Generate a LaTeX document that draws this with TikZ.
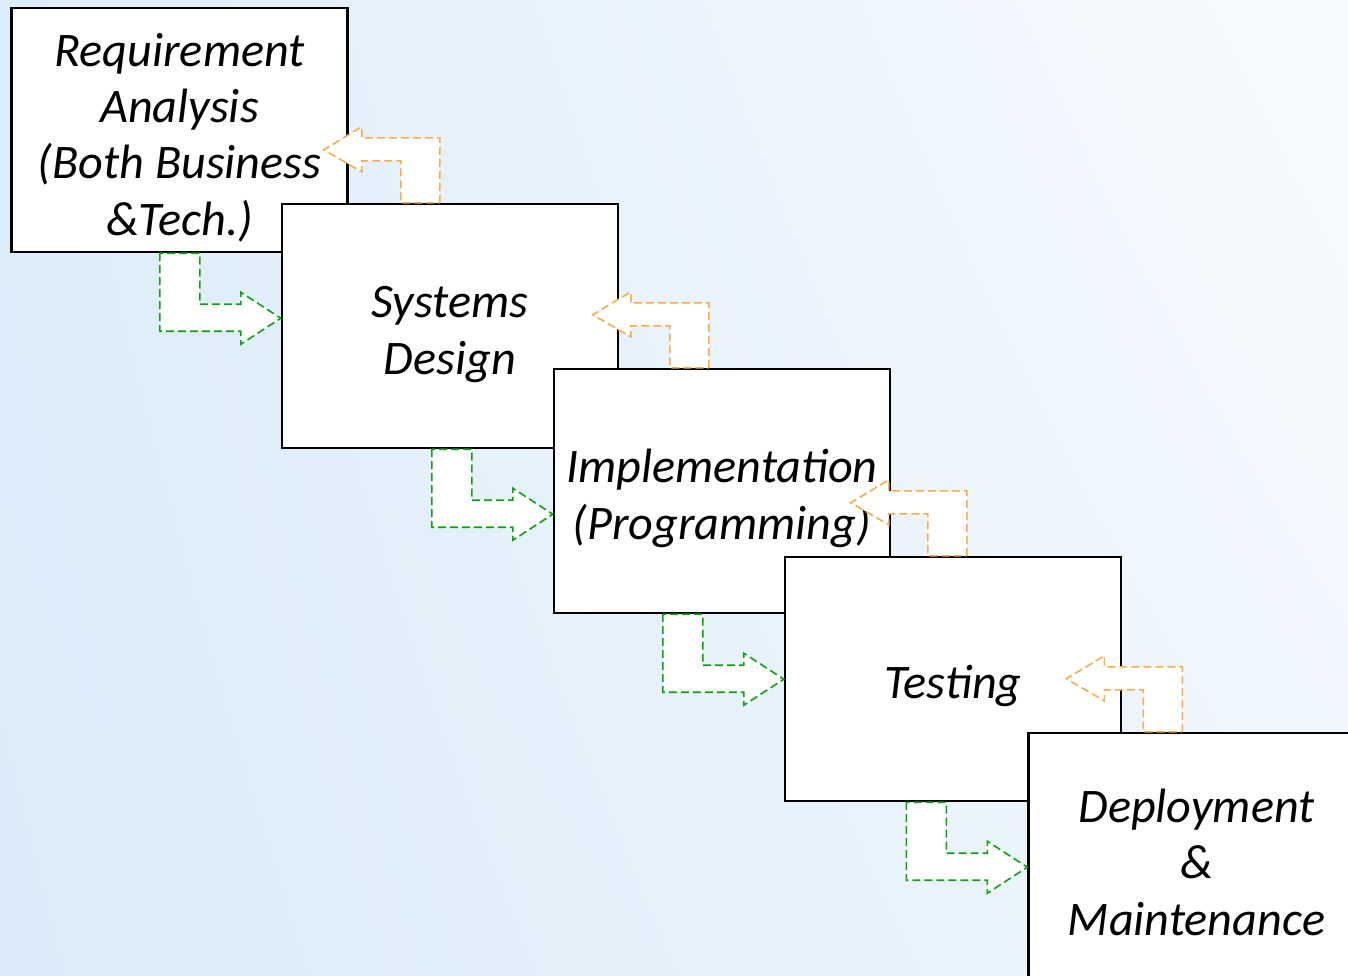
\documentclass[tikz,border=0pt]{standalone}
\usepackage{fontspec}
\setmainfont{Carlito}
\usepackage{tikz}
\usetikzlibrary{calc, shadings}

\definecolor{fwdgreen}{RGB}{10,165,10}
\definecolor{backorange}{RGB}{250,172,72}
\definecolor{bgul}{RGB}{222,237,250}
\definecolor{bgll}{RGB}{219,235,249}
\definecolor{bgur}{RGB}{248,251,254}
\definecolor{bglr}{RGB}{238,246,252}

% taller first line, so the text sits a little low in its box
\newcommand{\topstrut}{\rule{0pt}{24pt}}

\tikzset{
  % --- Phase boxes ------------------------------------------
  phase/.style={draw, fill=white, line width=1.2pt,
    minimum width=168pt, minimum height=122pt, inner sep=0pt,
    align=center, font=\fontsize{24.1}{28.2}\selectfont\itshape},
  % --- Bent arrows between phases ----------------------------
  fwdarrow/.style={draw=fwdgreen, fill=white, line width=0.8pt,
    dash pattern=on 4pt off 2pt},
  backarrow/.style={draw=backorange, fill=white, line width=0.8pt,
    dash pattern=on 4pt off 2pt}
}

\begin{document}
\begin{tikzpicture}[x=0.5pt, y=-0.5pt]

  % --- Background -----------------------------------------------
  \useasboundingbox (0,0) rectangle (1348,975);
  \clip (0,0) rectangle (1348,975);
  \shade[upper left=bgul, lower left=bgll, upper right=bgur,
    lower right=bglr] (0,0) rectangle (1348,975);

  % --- Phases (each one overlapping the previous) ---------------
  \node[phase] (RA) at (179.5,130) {\topstrut Requirement\\Analysis\\(Both Business\\\&Tech.)};
  \node[phase] (SD) at (450,326) {\topstrut Systems\\Design};
  \node[phase] (IP) at (722,491) {\topstrut Implementation\\(Programming)};
  \node[phase] (TS) at (953,679) {\topstrut Testing};
  \node[phase] (DM) at (1196.5,855) {\topstrut Deployment\\\&\\Maintenance};

  % --- Forward: green arrow from a phase into the next one ------
  \draw[fwdarrow] ($(SD.west |- RA.south)+(-121,0)$) -- ++(0,78) -- ++(81,0)
    -- ++(0,13) -- ++(40,-26) -- ++(-40,-26) -- ++(0,12) -- ++(-41,0)
    -- ++(0,-51) -- cycle;
  \draw[fwdarrow] ($(IP.west |- SD.south)+(-121,0)$) -- ++(0,78) -- ++(81,0)
    -- ++(0,13) -- ++(40,-26) -- ++(-40,-26) -- ++(0,12) -- ++(-41,0)
    -- ++(0,-51) -- cycle;
  \draw[fwdarrow] ($(TS.west |- IP.south)+(-121,0)$) -- ++(0,78) -- ++(81,0)
    -- ++(0,13) -- ++(40,-26) -- ++(-40,-26) -- ++(0,12) -- ++(-41,0)
    -- ++(0,-51) -- cycle;
  \draw[fwdarrow] ($(DM.west |- TS.south)+(-121,0)$) -- ++(0,78) -- ++(81,0)
    -- ++(0,13) -- ++(40,-26) -- ++(-40,-26) -- ++(0,12) -- ++(-41,0)
    -- ++(0,-51) -- cycle;

  % --- Feedback: orange arrow back to the previous phase --------
  \draw[backarrow] ($(SD.north west)+(159,0)$) -- ++(0,-65) -- ++(-78,0)
    -- ++(0,-11) -- ++(-38,23) -- ++(38,22) -- ++(0,-11) -- ++(39,0)
    -- ++(0,42) -- cycle;
  \draw[backarrow] ($(IP.north west)+(156,0)$) -- ++(0,-65) -- ++(-78,0)
    -- ++(0,-11) -- ++(-38,23) -- ++(38,22) -- ++(0,-11) -- ++(39,0)
    -- ++(0,42) -- cycle;
  \draw[backarrow] ($(TS.north west)+(183,0)$) -- ++(0,-65) -- ++(-78,0)
    -- ++(0,-11) -- ++(-38,23) -- ++(38,22) -- ++(0,-11) -- ++(39,0)
    -- ++(0,42) -- cycle;
  \draw[backarrow] ($(DM.north west)+(155,0)$) -- ++(0,-65) -- ++(-78,0)
    -- ++(0,-11) -- ++(-38,23) -- ++(38,22) -- ++(0,-11) -- ++(39,0)
    -- ++(0,42) -- cycle;

\end{tikzpicture}
\end{document}
